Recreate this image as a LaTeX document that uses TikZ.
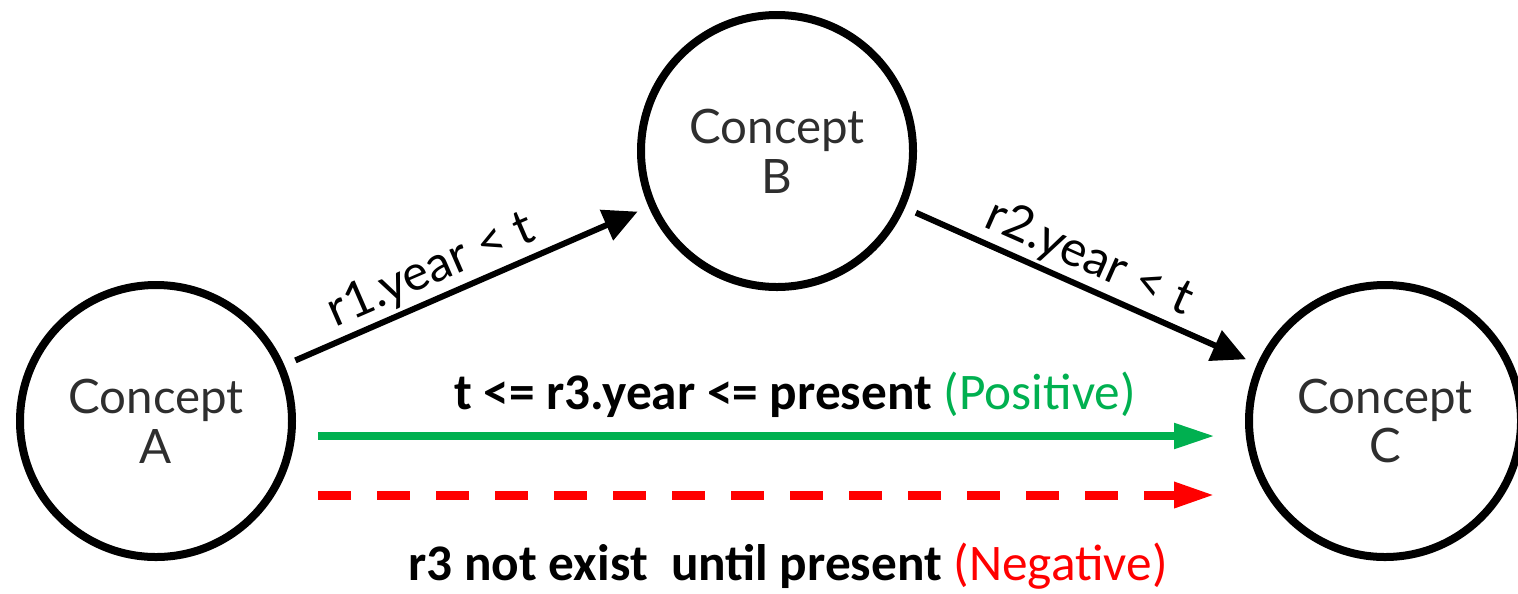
\documentclass[tikz,border=0pt]{standalone}
\usepackage{fontspec}
\setmainfont{Lato}
\newfontfamily\calibri{Carlito}
\usetikzlibrary{arrows.meta}
\definecolor{txtgray}{HTML}{2E2E2E}
\definecolor{posgreen}{HTML}{00B050}
\definecolor{negred}{HTML}{FF0000}
\begin{document}
\begin{tikzpicture}[x=0.1mm,y=0.1mm,
  concept/.style={draw,circle,line width=0.8mm,minimum size=27.2mm,inner sep=0pt,outer sep=1.6mm,align=center,text=txtgray,font=\fontsize{13.5}{14.2}\selectfont},
  link/.style={line width=0.6mm,-{Triangle[length=3.4mm,width=3.2mm]}},
  rel/.style={font=\fontsize{14}{15}\selectfont,sloped,above,inner sep=0.3mm},
  timeline/.style={line width=0.8mm,-{Triangle[length=4.1mm,width=2.4mm]}},
  cond/.style={font=\calibri\bfseries\fontsize{14.6}{16}\selectfont,anchor=base,inner sep=0pt}]
\useasboundingbox (0,0) rectangle (1518,593);
\node[concept] (a) at (156,172) {Concept\\A};
\node[concept] (b) at (777,442) {Concept\\B};
\node[concept] (c) at (1385,172) {Concept\\C};
\draw[link] (a) -- node[rel,pos=.43] {r1.year < t} (b);
\draw[link] (b) -- node[rel,pos=.49] {r2.year < t} (c);
\draw[timeline,posgreen] ([xshift=1mm,yshift=-1.5mm]a.east) -- ([xshift=-1.8mm,yshift=-1.5mm]c.west);
\draw[timeline,negred,line width=0.9mm,dash pattern=on 3.3mm off 2.6mm] ([xshift=1mm,yshift=-7.4mm]a.east) -- ([xshift=-1.8mm,yshift=-7.4mm]c.west);
\node[cond] (pos) at (795,184) {t <= r3.year <= present {\mdseries\color{posgreen}(Positive)}};
\node[cond] (neg) at (788,13) {r3 not exist\ \ until present {\mdseries\color{negred}(Negative)}};
\end{tikzpicture}
\end{document}
